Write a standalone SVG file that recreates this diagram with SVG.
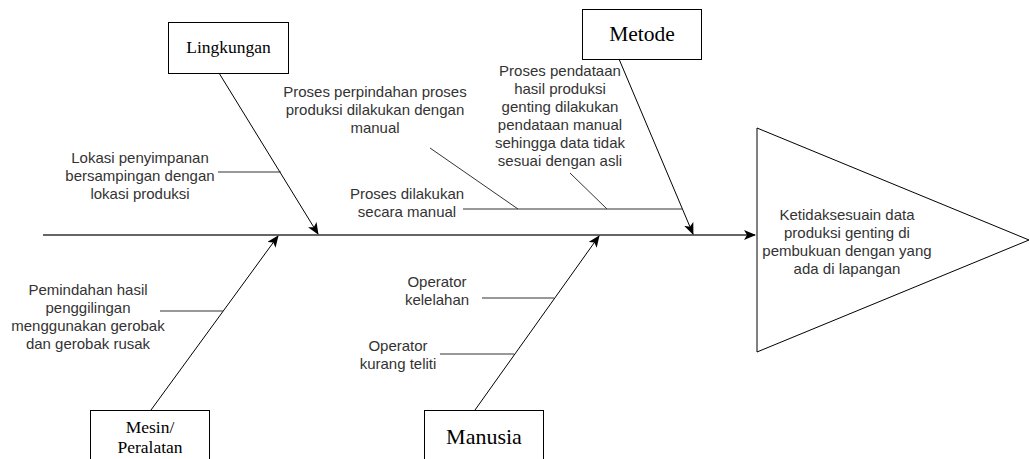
<svg xmlns="http://www.w3.org/2000/svg" width="1030" height="459" viewBox="0 0 1030 459">
<style>
.box{fill:#fff;stroke:#000;stroke-width:1}
.lbl{font-family:"Liberation Serif","Times New Roman",serif;fill:#000;text-anchor:middle}
.t{font-family:"Liberation Sans",Arial,Helvetica,sans-serif;font-size:15px;fill:#333;text-anchor:middle}
.ln{stroke:#000;stroke-width:1;fill:none}
.br{stroke:#333;stroke-width:1;fill:none}
</style>
<defs>
<marker id="ah" markerUnits="userSpaceOnUse" markerWidth="12" markerHeight="10" viewBox="0 0 12 10" refX="11" refY="5" orient="auto">
<path d="M0,0 L12,5 L0,10 L3,5 Z" fill="#000"/>
</marker>
</defs>
<rect width="1030" height="459" fill="#fff"/>
<g id="connectors">
<line x1="43" y1="235" x2="755" y2="235" stroke="#666" stroke-width="2" marker-end="url(#ah)"/>
<line class="ln" x1="219" y1="73" x2="318" y2="234" marker-end="url(#ah)"/>
<line class="ln" x1="619" y1="59" x2="693" y2="234" marker-end="url(#ah)"/>
<line class="ln" x1="151" y1="410" x2="278" y2="236" marker-end="url(#ah)"/>
<line class="ln" x1="475" y1="410" x2="599" y2="236" marker-end="url(#ah)"/>
<line class="br" x1="218" y1="172" x2="281" y2="172"/>
<line class="br" x1="463" y1="209" x2="683" y2="209"/>
<line class="br" x1="430" y1="148" x2="518" y2="209"/>
<line class="br" x1="570" y1="173" x2="607" y2="209"/>
<line class="br" x1="160" y1="311" x2="223" y2="311"/>
<line class="br" x1="482" y1="298" x2="554" y2="298"/>
<line class="br" x1="440" y1="354" x2="514" y2="354"/>
</g>
<g id="lingkungan">
<rect class="box" x="168.5" y="22.5" width="120" height="51"/>
<text class="lbl" x="228.5" y="53" font-size="17.5">Lingkungan</text>
</g>
<g id="metode">
<rect class="box" x="582.5" y="9.5" width="119" height="50"/>
<text class="lbl" x="642" y="41" font-size="21.5">Metode</text>
</g>
<g id="mesin">
<rect class="box" x="90.5" y="410.5" width="119" height="60"/>
<text class="lbl" x="150" y="433" font-size="17.5">Mesin/</text>
<text class="lbl" x="150" y="453" font-size="17.5">Peralatan</text>
</g>
<g id="manusia">
<rect class="box" x="424.5" y="410.5" width="119" height="60"/>
<text class="lbl" x="484" y="444" font-size="22">Manusia</text>
</g>
<g id="effect">
<polygon points="757,128 1029,240 757,352" fill="#fff" stroke="#000" stroke-width="1"/>
<text class="t" x="847" y="220">Ketidaksesuain data</text>
<text class="t" x="847" y="238">produksi genting di</text>
<text class="t" x="847" y="256">pembukuan dengan yang</text>
<text class="t" x="847" y="274">ada di lapangan</text>
</g>
<g id="cause-lokasi">
<text class="t" x="140" y="163">Lokasi penyimpanan</text>
<text class="t" x="140" y="181">bersampingan dengan</text>
<text class="t" x="140" y="199">lokasi produksi</text>
</g>
<g id="cause-perpindahan">
<text class="t" x="375" y="97">Proses perpindahan proses</text>
<text class="t" x="375" y="115">produksi dilakukan dengan</text>
<text class="t" x="375" y="133">manual</text>
</g>
<g id="cause-dilakukan">
<text class="t" x="407" y="199">Proses dilakukan</text>
<text class="t" x="407" y="217">secara manual</text>
</g>
<g id="cause-pendataan">
<text class="t" x="560" y="76">Proses pendataan</text>
<text class="t" x="560" y="94">hasil produksi</text>
<text class="t" x="560" y="112">genting dilakukan</text>
<text class="t" x="560" y="130">pendataan manual</text>
<text class="t" x="560" y="148">sehingga data tidak</text>
<text class="t" x="560" y="166">sesuai dengan asli</text>
</g>
<g id="cause-pemindahan">
<text class="t" x="88" y="295">Pemindahan hasil</text>
<text class="t" x="88" y="313">penggilingan</text>
<text class="t" x="88" y="331">menggunakan gerobak</text>
<text class="t" x="88" y="349">dan gerobak rusak</text>
</g>
<g id="cause-kelelahan">
<text class="t" x="437" y="287">Operator</text>
<text class="t" x="437" y="305">kelelahan</text>
</g>
<g id="cause-teliti">
<text class="t" x="398" y="351">Operator</text>
<text class="t" x="398" y="369">kurang teliti</text>
</g>
</svg>
